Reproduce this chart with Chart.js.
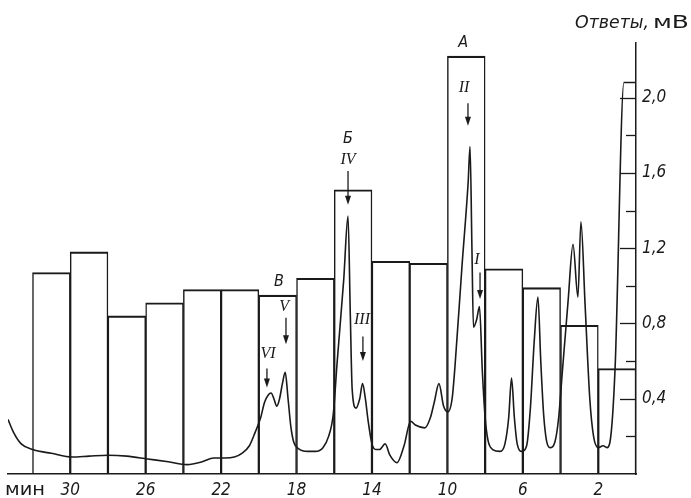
<!DOCTYPE html>
<html><head><meta charset="utf-8">
<script src="https://cdn.jsdelivr.net/npm/chart.js@4/dist/chart.umd.min.js"></script>
<style>html,body{margin:0;padding:0;background:#fff}#wrap{width:691px;height:498px}</style>
</head><body><div id="wrap"><canvas id="c" width="691" height="498"></canvas></div>
<script>
// Fractions (2-min collection intervals), centre time in minutes
const fractionCenters = [31, 29, 27, 25, 23, 21, 19, 17, 15, 13, 11, 9, 7, 5, 3, 1];
// Response of each fraction, mV
const fractionResponses = [1.07, 1.18, 0.84, 0.91, 0.98, 0.98, 0.95, 1.04, 1.51, 1.13, 1.12, 2.22, 1.09, 0.99, 0.79, 0.56];

// Chromatogram trace (time, min / response, mV)
const traceTimes = [33.3, 33.0, 32.6, 32.0, 31.0, 29.9, 29.0, 28.0, 27.0, 25.9, 24.8, 23.8, 23.0, 22.4, 21.8, 21.3, 20.9, 20.5, 20.2, 19.9, 19.7, 19.5, 19.35, 19.2, 19.05, 18.9, 18.75, 18.6, 18.45, 18.3, 18.15, 17.9, 17.4, 17.0, 16.6, 16.3, 16.05, 15.85, 15.5, 15.27, 15.15, 15.05, 14.85, 14.65, 14.5, 14.35, 14.2, 14.0, 13.8, 13.6, 13.3, 13.05, 12.67, 12.3, 11.95, 11.7, 11.2, 10.9, 10.7, 10.45, 10.2, 9.97, 9.75, 9.6, 9.23, 8.9, 8.8, 8.7, 8.62, 8.45, 8.3, 8.15, 8.0, 7.85, 7.6, 7.2, 6.95, 6.75, 6.6, 6.45, 6.3, 6.05, 5.8, 5.6, 5.4, 5.2, 5.05, 4.9, 4.75, 4.56, 4.3, 4.1, 3.9, 3.6, 3.34, 3.08, 2.92, 2.7, 2.45, 2.25, 2.0, 1.75, 1.54, 1.38, 1.11, 0.64, 0.0];
const traceResponses = [0.29, 0.22, 0.16, 0.13, 0.11, 0.09, 0.095, 0.10, 0.095, 0.08, 0.065, 0.05, 0.065, 0.085, 0.085, 0.09, 0.11, 0.15, 0.22, 0.30, 0.38, 0.42, 0.43, 0.40, 0.36, 0.40, 0.48, 0.54, 0.40, 0.25, 0.17, 0.135, 0.12, 0.12, 0.14, 0.20, 0.32, 0.59, 1.03, 1.37, 0.85, 0.45, 0.35, 0.40, 0.48, 0.40, 0.28, 0.16, 0.13, 0.13, 0.16, 0.10, 0.06, 0.15, 0.28, 0.26, 0.245, 0.30, 0.38, 0.48, 0.36, 0.33, 0.40, 0.57, 1.10, 1.55, 1.74, 1.20, 0.78, 0.82, 0.89, 0.55, 0.30, 0.18, 0.13, 0.12, 0.16, 0.30, 0.51, 0.30, 0.16, 0.12, 0.15, 0.35, 0.70, 0.94, 0.60, 0.32, 0.18, 0.14, 0.17, 0.30, 0.55, 0.92, 1.22, 0.94, 1.34, 0.90, 0.40, 0.20, 0.14, 0.15, 0.14, 0.17, 0.56, 2.08, 2.08];

// Axis ticks
const xTickLabels = [30, 26, 22, 18, 14, 10, 6, 2];
const yTickValues = [0.2, 0.4, 0.6, 0.8, 1.0, 1.2, 1.4, 1.6, 1.8, 2.0];
const yLabelledTicks = [0.4, 0.8, 1.2, 1.6, 2.0];

// Peak / fraction labels (text, time, response) and arrows (time, from, to)
const labelTexts = ['A', 'II', 'Б', 'IV', 'В', 'V', 'VI', 'III', 'I'];
const labelTimes = [9.17, 9.12, 15.27, 15.27, 18.93, 18.66, 19.51, 14.53, 8.43];
const labelValues = [2.29, 2.05, 1.78, 1.67, 1.02, 0.89, 0.64, 0.82, 1.14];
const arrowTimes = [8.91, 15.27, 18.56, 19.57, 14.48, 8.27];
const arrowFrom = [1.97, 1.61, 0.83, 0.56, 0.73, 1.07];
const arrowTo = [1.85, 1.43, 0.69, 0.46, 0.60, 0.93];

const INK = '#1a1a1a';
const tickFont = {family: "'DejaVu Sans Condensed', 'DejaVu Sans', 'Liberation Sans', sans-serif", size: 17, style: 'italic'};

const barData = fractionCenters.map((t, i) => ({x: t, y: fractionResponses[i]}));
const lineData = traceTimes.map((t, i) => ({x: t, y: traceResponses[i]}));

function fitText(ctx, text, x, y, width) {
  const w = ctx.measureText(text).width;
  ctx.save();
  ctx.translate(x, y);
  ctx.scale(width / w, 1);
  ctx.fillText(text, 0, 0);
  ctx.restore();
}

const decor = {
  id: 'decor',
  afterDatasetsDraw(chart) {
    const ctx = chart.ctx, xs = chart.scales.x, ys = chart.scales.y;
    ctx.save();
    // inward tick marks on right axis
    ctx.strokeStyle = INK; ctx.lineWidth = 1.3;
    const right = chart.chartArea.right;
    yTickValues.forEach(v => {
      const y = Math.round(ys.getPixelForValue(v)) + 0.5;
      const len = yLabelledTicks.some(l => Math.abs(l - v) < 1e-6) ? 16 : 10;
      ctx.beginPath(); ctx.moveTo(right - len, y); ctx.lineTo(right, y); ctx.stroke();
    });
    // arrows
    ctx.fillStyle = INK; ctx.lineWidth = 1.3;
    arrowTimes.forEach((t, i) => {
      const x = xs.getPixelForValue(t);
      const y0 = ys.getPixelForValue(arrowFrom[i]);
      const y1 = ys.getPixelForValue(arrowTo[i]);
      ctx.beginPath(); ctx.moveTo(x, y0); ctx.lineTo(x, y1 - 6); ctx.stroke();
      ctx.beginPath(); ctx.moveTo(x - 3, y1 - 9); ctx.lineTo(x + 3, y1 - 9); ctx.lineTo(x, y1); ctx.closePath(); ctx.fill();
    });
    // labels
    ctx.textAlign = 'center'; ctx.textBaseline = 'middle';
    labelTexts.forEach((s, i) => {
      const roman = /^[IV]+$/.test(s);
      ctx.font = roman ? "italic 16px 'Liberation Serif', serif" : "italic 16px 'DejaVu Sans Condensed', 'DejaVu Sans', sans-serif";
      ctx.fillText(s, xs.getPixelForValue(labelTimes[i]), ys.getPixelForValue(labelValues[i]));
    });
    // axis titles
    ctx.textBaseline = 'alphabetic'; ctx.textAlign = 'left';
    ctx.font = "italic 18px 'DejaVu Sans Condensed', 'DejaVu Sans', sans-serif";
    fitText(ctx, 'Ответы,', 575, 28, 74);
    ctx.font = "17px 'DejaVu Sans', sans-serif";
    fitText(ctx, 'мВ', 653, 28, 36);
    ctx.textBaseline = 'middle';
    ctx.font = "17px 'DejaVu Sans', sans-serif";
    fitText(ctx, 'мин', 5, 491, 40);
    ctx.restore();
  }
};

new Chart(document.getElementById('c'), {
  type: 'bar',
  data: {
    datasets: [
      {type: 'line', data: lineData, borderColor: INK, borderWidth: 1.6, pointRadius: 0, fill: false, cubicInterpolationMode: 'monotone', order: 0},
      {type: 'bar', data: barData, backgroundColor: 'rgba(255,255,255,0)', borderColor: INK,
       borderWidth: {top: 1.4, left: 0.8, right: 0.8, bottom: 0}, borderSkipped: false,
       barPercentage: 1, categoryPercentage: 1, order: 1}
    ]
  },
  options: {
    responsive: false, animation: false, devicePixelRatio: 1,
    layout: {padding: {top: 43, left: 8, right: 0, bottom: 0}},
    plugins: {legend: {display: false}, tooltip: {enabled: false}},
    scales: {
      x: {
        type: 'linear', min: 0, max: 33.3, reverse: true, offset: false,
        grid: {display: false, drawTicks: false},
        border: {display: true, color: INK, width: 1.5},
        afterBuildTicks: s => { s.ticks = xTickLabels.map(v => ({value: v})); },
        afterFit: s => { s.height = 24; },
        ticks: {autoSkip: false, maxRotation: 0, padding: 6, color: INK, font: tickFont, callback: v => String(v)}
      },
      y: {
        type: 'linear', position: 'right', min: 0, max: 2.29,
        grid: {display: false, drawTicks: false},
        border: {display: true, color: INK, width: 1.5},
        afterBuildTicks: s => { s.ticks = yTickValues.map(v => ({value: v})); },
        afterFit: s => { s.width = 55; },
        ticks: {autoSkip: false, padding: 6, color: INK, font: tickFont,
          callback: v => yLabelledTicks.some(l => Math.abs(l - v) < 1e-6) ? v.toFixed(1).replace('.', ',') : ''}
      }
    }
  },
  plugins: [decor]
});
</script></body></html>
